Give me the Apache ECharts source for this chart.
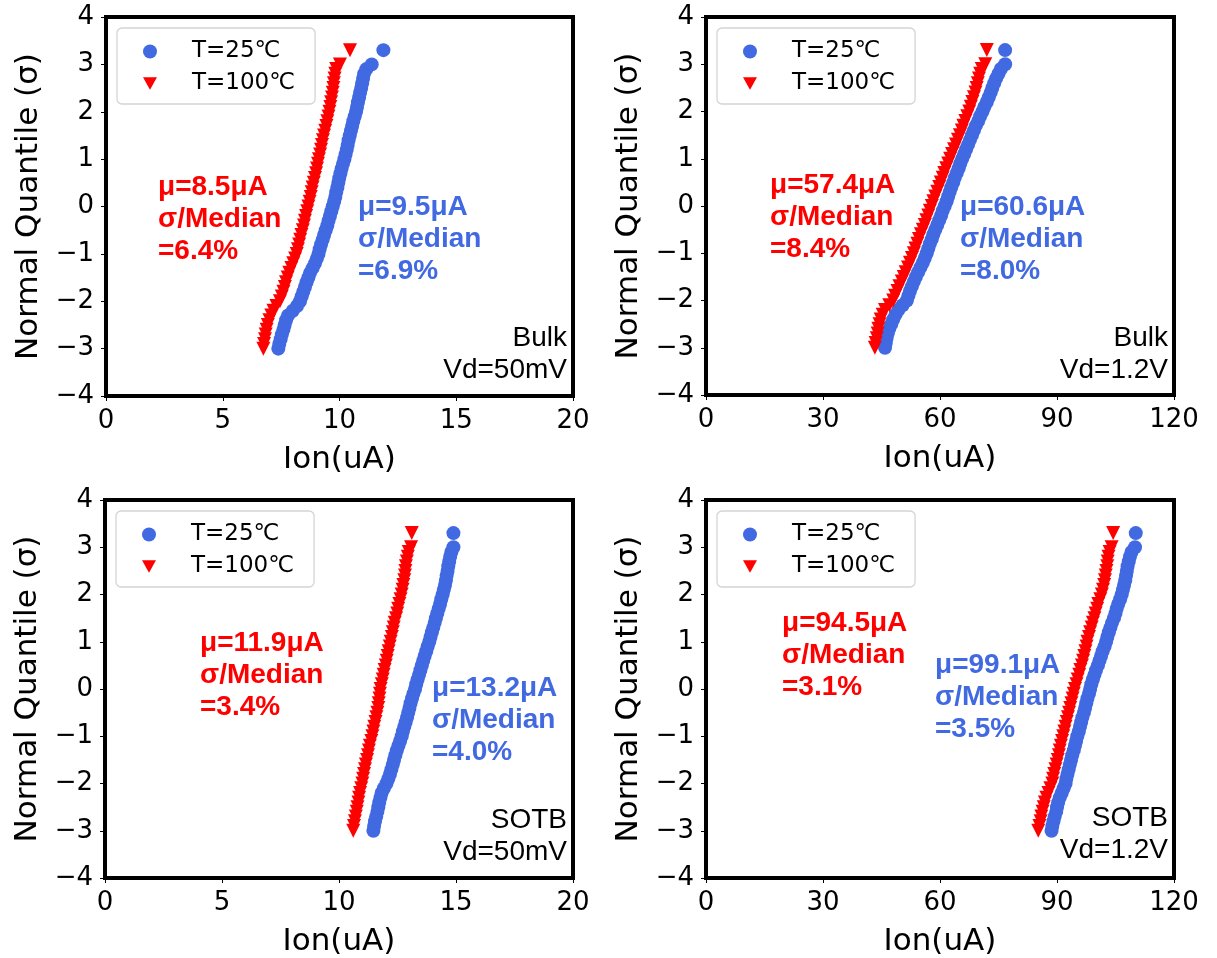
<!DOCTYPE html>
<html>
<head>
<meta charset="utf-8">
<script src="https://cdn.jsdelivr.net/npm/echarts@6/dist/echarts.min.js"></script>
<style>
html,body{margin:0;padding:0;background:#fff;}
#c{width:1217px;height:958px;}
</style>
</head>
<body>
<div id="c"></div>
<script>
// Theoretical normal quantiles (y values) shared by all series
const quantiles = [-3.0,-2.9,-2.8,-2.7,-2.6,-2.5,-2.4,-2.3,-2.2,-2.1,-2.0,-1.9,-1.8,-1.7,-1.6,-1.5,-1.4,-1.3,-1.2,-1.1,-1.0,-0.9,-0.8,-0.7,-0.6,-0.5,-0.4,-0.3,-0.2,-0.1,0.0,0.1,0.2,0.3,0.4,0.5,0.6,0.7,0.8,0.9,1.0,1.1,1.2,1.3,1.4,1.5,1.6,1.7,1.8,1.9,2.0,2.1,2.2,2.3,2.4,2.5,2.6,2.7,2.8,2.9,3.0,3.3];

// Ion (uA), one per quantile
const bulk50mV_25C  = [7.38,7.42,7.48,7.53,7.60,7.65,7.71,7.80,8.00,8.18,8.31,8.38,8.45,8.52,8.59,8.67,8.74,8.85,8.95,9.03,9.10,9.15,9.21,9.28,9.34,9.41,9.48,9.53,9.59,9.65,9.71,9.77,9.82,9.86,9.91,9.95,9.99,10.04,10.09,10.15,10.21,10.26,10.31,10.35,10.39,10.44,10.49,10.54,10.59,10.65,10.71,10.75,10.79,10.84,10.88,10.93,10.97,11.01,11.05,11.15,11.38,11.88];
const bulk50mV_100C = [6.74,6.77,6.81,6.84,6.88,6.93,7.00,7.08,7.17,7.30,7.45,7.53,7.60,7.66,7.71,7.78,7.85,7.94,8.02,8.10,8.17,8.22,8.27,8.32,8.37,8.43,8.48,8.52,8.57,8.62,8.67,8.72,8.77,8.81,8.85,8.90,8.95,9.00,9.04,9.08,9.12,9.17,9.21,9.25,9.29,9.34,9.39,9.44,9.48,9.53,9.57,9.61,9.64,9.68,9.71,9.74,9.76,9.79,9.82,9.86,10.02,10.45];
const bulk12V_25C   = [45.9,46.1,46.3,46.6,47.0,47.5,48.0,48.6,49.3,50.4,51.5,51.9,52.3,52.8,53.3,53.8,54.4,55.0,55.6,56.1,56.6,57.0,57.4,57.9,58.3,58.8,59.3,59.8,60.3,60.7,61.2,61.7,62.1,62.5,62.9,63.4,63.8,64.3,64.8,65.2,65.7,66.2,66.7,67.2,67.7,68.2,68.7,69.2,69.8,70.3,70.9,71.4,72.0,72.5,73.0,73.4,73.9,74.4,75.0,75.6,76.7,76.7];
const bulk12V_100C  = [43.3,43.5,43.8,44.0,44.2,44.5,44.8,45.3,45.9,47.0,48.0,48.5,49.1,49.6,50.2,50.7,51.2,51.8,52.3,52.8,53.3,53.7,54.2,54.6,55.1,55.6,56.1,56.5,57.0,57.4,57.9,58.3,58.8,59.3,59.8,60.2,60.7,61.1,61.6,62.1,62.6,63.1,63.6,64.1,64.6,65.1,65.6,66.0,66.5,67.0,67.5,67.9,68.3,68.7,69.1,69.4,69.7,70.0,70.3,70.7,71.6,72.0];
const sotb50mV_25C  = [11.47,11.50,11.54,11.59,11.64,11.68,11.72,11.77,11.82,11.92,12.03,12.11,12.18,12.24,12.30,12.35,12.41,12.47,12.54,12.61,12.68,12.73,12.79,12.85,12.91,12.96,13.01,13.06,13.12,13.18,13.25,13.30,13.36,13.42,13.48,13.54,13.60,13.66,13.73,13.79,13.86,13.91,13.97,14.03,14.09,14.14,14.20,14.26,14.32,14.37,14.43,14.48,14.53,14.57,14.60,14.64,14.67,14.71,14.75,14.80,14.89,14.89];
const sotb50mV_100C = [10.61,10.64,10.68,10.72,10.76,10.79,10.83,10.86,10.90,10.95,11.00,11.03,11.07,11.11,11.15,11.20,11.24,11.28,11.32,11.38,11.43,11.47,11.51,11.56,11.60,11.64,11.68,11.70,11.73,11.75,11.78,11.83,11.87,11.91,11.95,12.00,12.04,12.08,12.12,12.17,12.21,12.26,12.30,12.34,12.38,12.44,12.49,12.53,12.58,12.63,12.68,12.72,12.75,12.79,12.82,12.84,12.86,12.90,12.94,12.98,13.08,13.11];
const sotb12V_25C   = [88.6,88.8,89.1,89.4,89.8,90.0,90.3,90.7,91.2,91.7,92.2,92.4,92.7,93.0,93.3,93.6,93.9,94.3,94.6,94.9,95.2,95.6,95.9,96.2,96.5,96.9,97.2,97.5,97.8,98.2,98.5,98.8,99.2,99.6,100.0,100.5,100.9,101.3,101.7,102.2,102.6,102.9,103.3,103.7,104.1,104.6,105.0,105.3,105.7,106.2,106.6,106.9,107.2,107.5,107.7,107.9,108.1,108.4,108.7,109.1,110.0,110.2];
const sotb12V_100C  = [85.2,85.5,85.8,86.0,86.3,86.6,86.9,87.3,87.8,88.3,88.8,89.0,89.3,89.6,89.9,90.2,90.5,90.7,91.0,91.3,91.6,91.9,92.2,92.5,92.8,93.1,93.4,93.7,94.0,94.3,94.6,95.0,95.3,95.7,96.0,96.4,96.7,97.0,97.3,97.6,97.8,98.2,98.5,98.9,99.2,99.6,99.9,100.3,100.6,101.1,101.5,101.8,102.1,102.3,102.5,102.7,102.9,103.0,103.2,103.5,104.0,104.4];

const seriesNames = ['T=25℃','T=100℃'];
const xMax = [20, 120, 20, 120];
const xInterval = [5, 30, 5, 30];
const yTicks = [-4, 4, 1];
const xName = 'Ion(uA)';
const yName = 'Normal Quantile (σ)';

const annotRed  = [['μ=8.5μA','σ/Median','=6.4%'],['μ=57.4μA','σ/Median','=8.4%'],['μ=11.9μA','σ/Median','=3.4%'],['μ=94.5μA','σ/Median','=3.1%']];
const annotBlue = [['μ=9.5μA','σ/Median','=6.9%'],['μ=60.6μA','σ/Median','=8.0%'],['μ=13.2μA','σ/Median','=4.0%'],['μ=99.1μA','σ/Median','=3.5%']];
const deviceLabel = [['Bulk','Vd=50mV'],['Bulk','Vd=1.2V'],['SOTB','Vd=50mV'],['SOTB','Vd=1.2V']];

const panelData = [
  [bulk50mV_25C, bulk50mV_100C],
  [bulk12V_25C, bulk12V_100C],
  [sotb50mV_25C, sotb50mV_100C],
  [sotb12V_25C, sotb12V_100C]
];

// layout
const grids = [
  {left:106, top:17, width:467, height:379},
  {left:706, top:17, width:468, height:378},
  {left:105, top:500, width:468, height:382},
  {left:706, top:500, width:468, height:382}
];
const redPos  = [[158,171],[770,169],[200,627],[782,607]];
const bluePos = [[358,191],[960,191],[432,672],[935,649]];
const devRight = [[567,322],[1168,322],[567,804],[1168,802]];

const BLUE = '#4169E1', RED = '#FF0000';
const tickFont = 'DejaVu Sans';
const fmt = v => String(v).replace('-', '\u2212');

const option = {
  animation: false,
  backgroundColor: '#fff',
  grid: grids.map(g => Object.assign({show:true, borderColor:'#000', borderWidth:4, backgroundColor:'transparent'}, g)),
  xAxis: grids.map((g,i) => ({
    gridIndex:i, type:'value', min:0, max:xMax[i], interval:xInterval[i],
    name:xName, nameLocation:'middle', nameGap:48,
    nameTextStyle:{fontFamily:tickFont, fontSize:31, color:'#000'},
    axisLine:{show:false, onZero:false}, splitLine:{show:false},
    axisTick:{show:true, length:5, lineStyle:{color:'#000', width:1}},
    axisLabel:{fontFamily:tickFont, fontSize:26, color:'#000', margin:12, formatter:fmt}
  })),
  yAxis: grids.map((g,i) => ({
    gridIndex:i, type:'value', min:yTicks[0], max:yTicks[1], interval:yTicks[2],
    name:yName, nameLocation:'middle', nameGap:62,
    nameTextStyle:{fontFamily:tickFont, fontSize:31, color:'#000'},
    axisLine:{show:false, onZero:false}, splitLine:{show:false},
    axisTick:{show:true, length:5, lineStyle:{color:'#000', width:1}},
    axisLabel:{fontFamily:tickFont, fontSize:26, color:'#000', margin:12, formatter:fmt}
  })),
  legend: grids.map((g,i) => ({
    orient:'vertical', left:g.left+11, top:g.top+11,
    backgroundColor:'#fff', borderColor:'#d4d4d4', borderWidth:1.3, borderRadius:5,
    padding:[12,20,9,26], itemGap:9, itemWidth:14, itemHeight:14,
    textStyle:{fontFamily:tickFont, fontSize:23, color:'#000', padding:[0,0,0,30]},
    data:[{name:seriesNames[0], icon:'circle'},{name:seriesNames[1], icon:'path://M0,0 L10,0 L5,9 Z'}]
  })),
  series: [],
  graphic: []
};

panelData.forEach((pd,i) => {
  option.series.push({
    type:'scatter', name:seriesNames[0], xAxisIndex:i, yAxisIndex:i,
    symbol:'circle', symbolSize:14, itemStyle:{color:BLUE, opacity:1},
    data: quantiles.map((q,k) => [pd[0][k], q]), z:2
  });
  option.series.push({
    type:'scatter', name:seriesNames[1], xAxisIndex:i, yAxisIndex:i,
    symbol:'triangle', symbolRotate:180, symbolSize:14, itemStyle:{color:RED, opacity:1},
    data: quantiles.map((q,k) => [pd[1][k], q]), z:3
  });
  option.graphic.push({type:'text', x:redPos[i][0], y:redPos[i][1], z:10,
    style:{text:annotRed[i].join('\n'), fill:RED, font:'bold 28px "Liberation Sans"', lineHeight:32, align:'left', verticalAlign:'top'}});
  option.graphic.push({type:'text', x:bluePos[i][0], y:bluePos[i][1], z:10,
    style:{text:annotBlue[i].join('\n'), fill:BLUE, font:'bold 28px "Liberation Sans"', lineHeight:32, align:'left', verticalAlign:'top'}});
  option.graphic.push({type:'text', x:devRight[i][0], y:devRight[i][1], z:10,
    style:{text:deviceLabel[i].join('\n'), fill:'#000', font:'28px "Liberation Sans"', lineHeight:32, align:'right', verticalAlign:'top'}});
});

const chart = echarts.init(document.getElementById('c'), null, {renderer:'canvas'});
chart.setOption(option);
</script>
</body>
</html>
